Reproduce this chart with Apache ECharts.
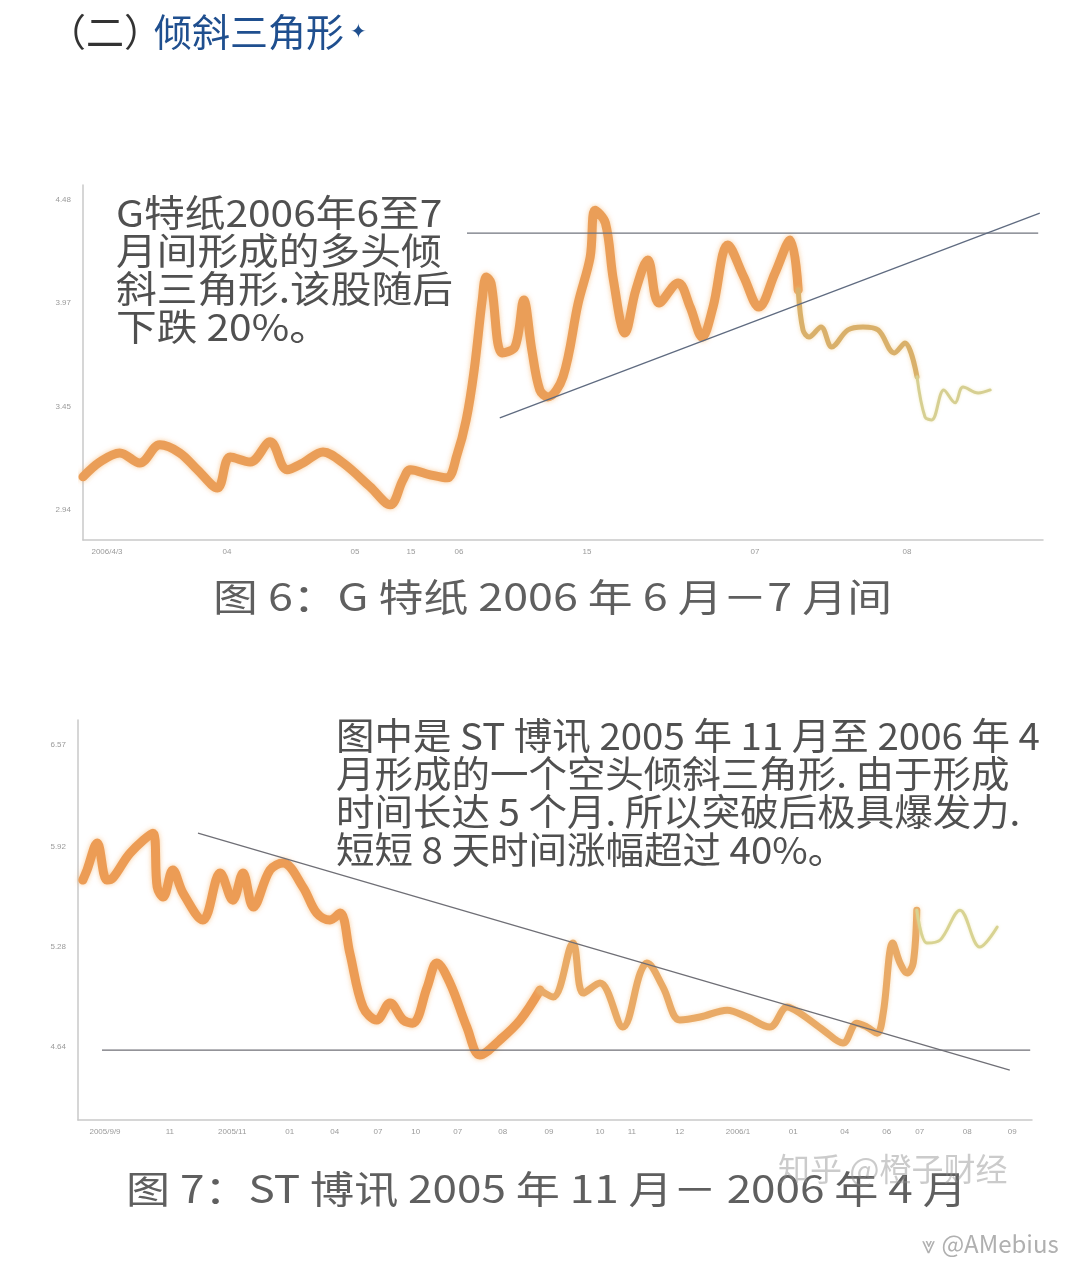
<!DOCTYPE html>
<html><head><meta charset="utf-8">
<style>html,body{margin:0;padding:0;background:#fff}#c{width:1080px;height:1261px}</style>
<script src="https://cdn.jsdelivr.net/npm/echarts@6.0.0/dist/echarts.min.js"></script>
</head><body><div id="c"></div>
<script>
// ---- Chart 1 (G特纸) ----
const c1Days  = [0,2.1,4.6,7.1,9.6,12.1,14.3,16.8,18.4,20.9,23.4,25.5,27.5,30,32.5,35.9,38.4,40,40.9,43.4,45.5,46.75,47.9,48.9,49.9,50.4,51,52.4,54,55.1,56.1,57.1,58.1,60,61.9,63.4,64,65.3,66.3,67.75,69.1,70.6,72,74.4,75.9,77.4,78.75,80.6,82.6,84.5,86.5,88.4,89.4,90,90.75,92.25,93.6,95.6,97.5,99.4,101.4,102.75,104.25,105.25,106.1,107.6,109,110,111.9,113.4];
const c1Price = [3.104,3.178,3.223,3.173,3.263,3.223,3.139,3.049,3.203,3.178,3.278,3.139,3.173,3.228,3.173,3.054,2.965,3.089,3.139,3.114,3.099,3.213,3.387,3.636,3.983,4.098,4.068,3.72,3.75,3.983,3.735,3.536,3.501,3.601,3.968,4.197,4.43,4.366,4.083,3.819,4.033,4.182,3.968,4.068,3.948,3.799,3.948,4.257,4.098,3.948,4.117,4.281,4.033,3.834,3.799,3.849,3.75,3.834,3.849,3.834,3.72,3.77,3.601,3.402,3.387,3.536,3.472,3.551,3.521,3.536];
const c1Breaks = [89.4, 104.25];
const c1ResistDays = [48, 119.4];   const c1ResistVals = [4.316, 4.316];
const c1SupportDays = [52.1, 119.6]; const c1SupportVals = [3.397, 4.415];
const c1YTicks = [2.94, 3.45, 3.97, 4.48];
const c1XTickDays = [3, 18, 34, 41, 47, 63, 84, 103];
const c1XTickText = ['2006/4/3', '04', '05', '15', '06', '15', '07', '08'];

// ---- Chart 2 (ST博讯) ----
const c2Days  = [0.8,1.5,3.2,4.8,5.8,8.7,12.5,13.2,14.2,15.8,17.5,20.8,23.7,25.8,27.5,29.2,32,34.2,37.5,39.8,42,43.7,45.3,47.5,49.8,52,54.2,55.8,58.2,59.8,62,64.8,67,70.3,73.7,77,79.2,82.5,84.2,87,90.8,93.7,94.8,97.5,100.3,103.7,108.2,111.5,115.3,118.2,120.3,124.2,127.5,129.8,131.5,133.2,134.2,135.8,137,138.2,139.2,139.8,141.5,143.7,147,150.3,153.2];
const c2Price = [5.707,5.771,5.944,5.707,5.72,5.88,6.007,5.662,5.599,5.771,5.624,5.452,5.752,5.579,5.752,5.535,5.771,5.816,5.662,5.496,5.452,5.496,5.241,4.896,4.813,4.921,4.813,4.793,5.023,5.177,5.049,4.768,4.589,4.685,4.813,5.004,4.96,5.305,4.985,5.049,4.768,5.113,5.177,5.023,4.813,4.832,4.876,4.832,4.768,4.896,4.857,4.749,4.666,4.793,4.768,4.729,4.857,5.305,5.177,5.113,5.177,5.515,5.305,5.324,5.515,5.279,5.407];
const c2Breaks = [77, 139.8];
const c2ResistDays = [20, 155.3];  const c2ResistVals = [6.007, 4.493];
const c2SupportDays = [4, 158.7];  const c2SupportVals = [4.621, 4.621];
const c2YTicks = [4.64, 5.28, 5.92, 6.57];
const c2XTickDays = [4.5,15.3,25.7,35.3,42.8,50,56.3,63.3,70.8,78.5,87,92.3,100.3,110,119.2,127.8,134.8,140.3,148.2,155.7];
const c2XTickText = ['2005/9/9','11','2005/11','01','04','07','10','07','08','09','10','11','12','2006/1','01','04','06','07','08','09'];

const zip = (a, b) => a.map((d, i) => [d, b[i]]);
const seg = (days, vals, from, to) => zip(days, vals).filter(p => p[0] >= from && p[0] <= to);

const CJK = "'Noto Sans CJK SC', 'Noto Sans', sans-serif";
const axisCol = '#c9c9c9';

function priceSeries(idx, days, vals, breaks, styles) {
  const bounds = [-Infinity, breaks[0], breaks[1], Infinity];
  return styles.map((st, k) => ({
    type: 'line', xAxisIndex: idx, yAxisIndex: idx,
    data: seg(days, vals, bounds[k], bounds[k + 1]),
    smooth: 0.35, symbol: 'none', z: 3,
    lineStyle: { width: st.w, color: st.c, shadowColor: st.s, shadowBlur: st.b, cap: 'round', join: 'round' }
  }));
}
function trend(idx, days, vals, color) {
  return { type: 'line', xAxisIndex: idx, yAxisIndex: idx, data: zip(days, vals), symbol: 'none', z: 4,
           lineStyle: { width: 1.3, color: color } };
}
function xAx(idx, max, tickDays, tickText) {
  return { type: 'value', gridIndex: idx, min: 0, max: max,
    axisLine: { show: true, lineStyle: { color: axisCol, width: 1.5 } },
    axisTick: { show: false }, splitLine: { show: false },
    axisLabel: { customValues: tickDays, color: '#9a9a9a', fontSize: 8, margin: 8,
      formatter: v => { const i = tickDays.indexOf(v); return i >= 0 ? tickText[i] : ''; } } };
}
function yAx(idx, min, max, ticks) {
  return { type: 'value', gridIndex: idx, min: min, max: max,
    axisLine: { show: true, lineStyle: { color: axisCol, width: 1.5 } },
    axisTick: { show: false }, splitLine: { show: false },
    axisLabel: { customValues: ticks, color: '#9a9a9a', fontSize: 8, margin: 12, formatter: v => v.toFixed(2) } };
}

const styles1 = [
  { w: 9, c: '#EA9E58', s: 'rgba(245,180,110,0.7)', b: 5 },
  { w: 5, c: '#D9B06A', s: 'rgba(240,200,130,0.6)', b: 4 },
  { w: 3, c: '#D6CF92', s: 'rgba(235,225,160,0.6)', b: 3 }
];
const styles2 = [
  { w: 9, c: '#EC9C55', s: 'rgba(245,180,110,0.7)', b: 5 },
  { w: 7, c: '#E9AA66', s: 'rgba(245,195,130,0.6)', b: 4 },
  { w: 3, c: '#D8D392', s: 'rgba(235,225,160,0.6)', b: 3 }
];

const txt = (x, y, text, size, fill, extra) => Object.assign({
  type: 'text', x: x, y: y, z: 10,
  style: { text: text, fontSize: size, fontFamily: CJK, fill: fill, lineHeight: 38, verticalAlign: 'top' }
}, extra || {});

const chart = echarts.init(document.getElementById('c'), null, { renderer: 'canvas' });
chart.setOption({
  backgroundColor: '#ffffff',
  animation: false,
  grid: [
    { left: 83, top: 185, width: 960, height: 355 },
    { left: 78, top: 720, width: 954, height: 400 }
  ],
  xAxis: [ xAx(0, 120, c1XTickDays, c1XTickText), xAx(1, 159, c2XTickDays, c2XTickText) ],
  yAxis: [ yAx(0, 2.79, 4.555, c1YTicks), yAx(1, 4.174, 6.73, c2YTicks) ],
  series: [
    ...priceSeries(0, c1Days, c1Price, c1Breaks, styles1),
    trend(0, c1ResistDays, c1ResistVals, '#70757e'),
    trend(0, c1SupportDays, c1SupportVals, '#5f6b80'),
    ...priceSeries(1, c2Days, c2Price, c2Breaks, styles2),
    trend(1, c2ResistDays, c2ResistVals, '#6f6f76'),
    trend(1, c2SupportDays, c2SupportVals, '#6f6f76')
  ],
  graphic: [
    txt(48, 13, '（二）', 38, '#333333'),
    txt(154, 13, '倾斜三角形', 38, '#1f4f8f'),
    txt(350, 11, '✦', 20, '#1f4f8f'),
    txt(116, 194, 'G特纸2006年6至7\n月间形成的多头倾\n斜三角形.该股随后\n下跌 20%。', 37, '#505050', { scaleX: 1.1 }),
    txt(213, 578, '图 6：G 特纸 2006 年 6 月－7 月间', 38, '#5f5f5f', { scaleX: 1.18 }),
    txt(336, 717, '图中是 ST 博讯 2005 年 11 月至 2006 年 4\n月形成的一个空头倾斜三角形. 由于形成\n时间长达 5 个月. 所以突破后极具爆发力.\n短短 8 天时间涨幅超过 40%。', 37, '#505050', { scaleX: 1.04 }),
    txt(126, 1170, '图 7：ST 博讯 2005 年 11 月－ 2006 年 4 月', 38, '#5f5f5f', { scaleX: 1.16 }),
    txt(778, 1150, '知乎 @橙子财经', 32, 'rgba(140,140,140,0.45)'),
    txt(922, 1225, '⩔ @AMebius', 24, '#b0b0b0')
  ]
});
</script></body></html>
